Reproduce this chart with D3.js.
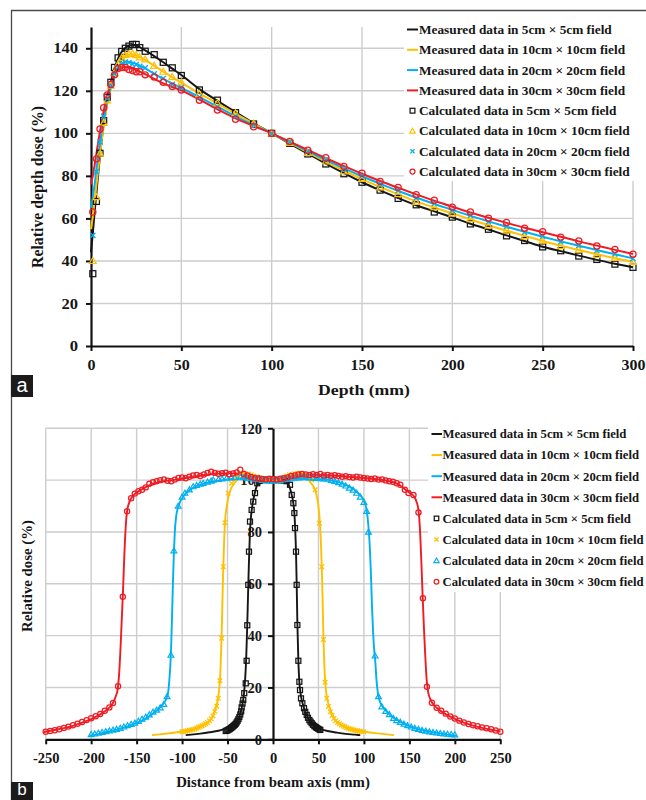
<!DOCTYPE html>
<html>
<head>
<meta charset="utf-8">
<script src="https://cdn.jsdelivr.net/npm/d3@7"></script>
<style>
  html, body { margin: 0; padding: 0; background: #fff; }
  svg { display: block; }
  text { font-family: "Liberation Serif", "Times New Roman", serif; font-weight: bold; fill: #161616; }
</style>
</head>
<body>
<svg id="fig" width="646" height="800"></svg>
<script>
// ---------- shared ----------
const fieldNames = ["5cm × 5cm", "10cm × 10cm", "20cm × 20cm", "30cm × 30cm"];
const fieldColors = ["#161616", "#ffc000", "#00b0f0", "#ee1c24"];

// ---------- panel a: percentage depth dose ----------
const pddXTicks = [0, 50, 100, 150, 200, 250, 300];
const pddYTicks = [0, 20, 40, 60, 80, 100, 120, 140];

const pddDepthMeasured = [0,1,2,3,4,5,6,7,8,9,10,12,14,16,18,20,22,24,26,28,30,35,40,45,50,
  60,70,80,90,100,110,120,130,140,150,160,170,180,190,200,210,220,230,240,250,260,270,280,290,300];
const pddMeas5 = [44,53,63,72,81,89.5,97.5,104.5,110.5,115.5,120,127.5,133,137,139.5,140.8,141.4,141.5,141,140,139,136.3,133.4,130.4,127.4,
  120.8,115.3,110,104.8,100,95.2,90.5,85.8,81.3,77,73.2,69.6,66.2,63.3,60.5,57.5,54.8,52,49.4,46.7,44.6,42.5,40.5,38.7,37];
const pddMeas10 = [55,61,68,75.5,83,90,97,103,108.5,113.5,117.5,124.5,129.5,133,135.5,136.8,137.2,137,136.4,135.5,134.5,131.8,129,126.3,123.8,
  118.8,114,109.3,104.6,100,95.5,91,86.6,82.4,78.5,74.8,71.3,68,65.1,62.4,59.5,56.8,54.2,51.8,49.4,47.2,45.1,43.1,41.3,39.6];
const pddMeas20 = [65,70,76,83,89.5,95.5,101,106.5,111,115,118.5,124.5,129,131.8,133.2,133.7,133.5,133,132.3,131.4,130.5,128,125.6,123.4,121.4,
  117,112.5,108,103.9,100,95.8,91.6,87.4,83.5,79.8,76.3,72.9,69.8,66.8,64,61.2,58.6,56.1,53.7,51.4,49.2,47.1,45.1,43.1,41.2];
const pddMeas30 = [76,80,85,90.5,96,101,106,110.5,114.5,118,121,125.8,129,130.7,131.2,131.1,130.7,130.1,129.4,128.6,127.8,125.6,123.5,121.8,120.2,
  115.8,111.3,107,103.4,100,96.1,92.2,88.3,84.6,81,77.6,74.4,71.3,68.3,65.5,62.8,60.3,57.9,55.6,53.5,51.4,49.2,47.2,45.2,43.3];

const pddDepthCalc = [1,3,5,7,9,11,13,15,17,19,21,23,25,27,30,35,40,45,50,
  60,70,80,90,100,110,120,130,140,150,160,170,180,190,200,210,220,230,240,250,260,270,280,290,300];
const pddCalc5 = [34,68,90.6,106,117,124,131,135.5,138.5,140,141,141.8,141.8,140.3,138.6,137,133.4,130.8,127.2,
  120.4,115.6,109.7,104.4,100,95.3,90.3,85.6,81,77,73.3,69.4,66.4,63,60.6,57.4,54.9,51.8,49.6,46.6,44.8,42.3,40.7,38.5,37];
const pddCalc10 = [40,70,90.5,105,115.5,122.5,128.5,132.5,135.5,136.8,137.3,137.5,136.8,135.8,134.8,131.8,129,126.5,124,
  118.5,114.2,109.5,104.5,100,95.6,90.8,86.8,82.2,78.6,74.6,71.5,67.8,65.3,62.3,59.7,56.6,54.4,51.6,49.6,47,45.3,42.9,41.5,39.6];
const pddCalc20 = [52,82,96,108,116.5,122.5,128,131,132.8,133.5,133.3,132.5,132.3,131.5,130.8,128,125.8,123,121.5,
  117,112.5,108,103.8,100,95.9,91.4,87.6,83.3,80,76.1,73.1,69.6,67,63.8,61.4,58.4,56.3,53.5,51.6,49,47.3,44.9,43.3,41.1];
const pddCalc30 = [63,88,102,112,118,123,127.5,130.5,131,131,130,129.5,129,129,127.5,126.5,124,122,120.4,
  115.6,111,106.6,103.1,100,96.2,92,88.5,84.4,81.2,77.4,74.6,71.1,68.5,65.3,63,60.1,58.1,55.4,53.7,51.2,49.4,47,45.4,43.2];

// ---------- panel b: lateral dose profiles ----------
const profXTicks = [-250,-200,-150,-100,-50,0,50,100,150,200,250];
const profYTicks = [0,20,40,60,80,100,120];

const profMeas5 = [[-96,1.6],[-90,1.8],[-80,2.2],[-70,2.7],[-60,3.3],[-52,4.1],[-46,5],[-42,6],[-39,7.3],[-36.5,9.3],[-34.5,12],[-33,14.8],
  [-31.8,18],[-30.5,24],[-29.5,31],[-28.5,42],[-27.5,55],[-26.5,68],[-25.5,78.5],[-24.3,85.5],[-22.8,90],[-21,93.5],[-19,96.5],[-17,98.6],
  [-14,99.6],[-10,100],[-5,100.2],[0,100.2],[5,100.1],[10,100],[14,99.5],[17,98.3],[19,96.5],[20.6,94.3],[22.4,91],[23.5,87.3],[24.3,82],
  [25.3,72.4],[26,61],[26.8,45],[27.8,31.5],[28.9,22.5],[30,18.5],[31.5,15.3],[33,13.3],[34.5,11.6],[37,9.3],[40,7.4],[43,6.1],[48,4.5],
  [52,4],[60,3.2],[70,2.6],[80,2.1],[90,1.8],[96,1.6]];
const profCalc5 = [[-52,3.2],[-51,3.3],[-50,3.5],[-49,3.7],[-48,3.9],[-47,4.1],[-46,4.4],[-45,4.7],[-44,5],[-43,5.3],[-42,5.6],[-41,6],
  [-40,6.5],[-39,7.1],[-38,7.8],[-37,8.6],[-36,9.6],[-35,10.8],[-34.5,12.3],[-33.5,13.8],[-32.7,15.2],[-31.6,17.8],[-30,21.6],[-29,30.3],
  [-28.3,44],[-27.2,59.6],[-26.4,72.4],[-25.3,84],[-23.5,88.5],[-21.7,91.7],[-19.8,95],[-17.3,98.8],[-14.5,99.7],[-12,100],[-9,100.1],
  [-6,100.2],[-3,100.2],[0,100.2],[3,100.1],[6,100],[9,100],[12,99.9],[15,99.6],[18.7,98.2],[20.6,94.3],[22.4,91.1],[23.5,87.3],[24.2,81.5],
  [25.3,72.4],[26,59.6],[26.8,44.1],[27.9,30.3],[29,22.2],[29.7,19],[30.8,15.8],[32.3,13.9],[34.1,12],[35.5,10.6],[37.1,9.4],[38.5,8.3],
  [40,7.4],[41.3,6.8],[42.6,6.2],[44,5.6],[45.5,5.1],[47,4.7],[48.1,4.4],[49.5,4.1],[51,3.8],[52,3.6]];

const profMeas10 = [[-133,1.6],[-125,1.9],[-115,2.3],[-105,2.7],[-100,3],[-90,3.6],[-80,4.7],[-73,6],[-68,7.8],[-65,10],[-62.5,12.8],
  [-60.5,15.5],[-59,20],[-58,25],[-57.3,32],[-56.5,40],[-55.7,52],[-54.8,65],[-53.8,76],[-52.8,84],[-51,89.5],[-49,93.5],[-46,96.8],
  [-42,99],[-38,100.4],[-33,101.2],[-28,101.3],[-20,101],[-10,100.5],[0,100.2],[10,100.5],[20,101],[28,101.3],[33,101.2],[38,100.3],
  [42,98.8],[46,96.5],[48,94],[50,90],[51.5,84],[52.7,76],[53.7,66],[54.5,55],[55.3,42],[56.2,31],[57.2,23.5],[58.5,18],[60,15],
  [62,12.5],[64.5,10.2],[67,8.2],[72,6.2],[80,4.6],[90,3.5],[100,2.9],[110,2.5],[120,2.1],[133,1.6]];
const profCalc10 = [[-100,2.9],[-98,3],[-96,3.1],[-94,3.3],[-92,3.5],[-90,3.6],[-88,3.8],[-86,4],[-84,4.3],[-82,4.6],[-80,4.9],[-78,5.2],
  [-76,5.6],[-74,6],[-72,6.5],[-70,7.2],[-68,7.9],[-66,9],[-64,10.8],[-62,12.8],[-60.2,15.8],[-58.4,22.6],[-56.5,39],[-54.7,66.6],
  [-52.9,83.6],[-49.2,95],[-45.5,98.8],[-42,100.5],[-39,101.5],[-36,102.3],[-33,102.7],[-30,102.5],[-27,102.4],[-24,102],[-21,101.6],
  [-18,101.3],[-15,100.9],[-12,100.6],[-9,100.4],[-6,100.2],[-3,100.1],[0,100],[3,100.2],[6,100.4],[9,100.6],[12,101],[15,101.6],[18,102],
  [21,102.2],[24,102.5],[27,102.6],[30,102.7],[33,102.4],[37,102],[40,101],[42.6,100.1],[46.3,96.3],[51,83.4],[53.6,66.6],[55.4,38.5],
  [57.3,22],[59.1,15.8],[61,12.7],[63,10.6],[65,9.2],[67,8],[69,7.2],[71,6.5],[73,6],[75,5.5],[77,5.1],[79,4.8],[81,4.5],[83,4.2],[85,4],
  [87,3.8],[89,3.6],[91,3.4],[93,3.3],[95,3.1],[97,3],[99.5,2.9]];

const profMeas20 = [[-202,1.4],[-190,2.2],[-180,3],[-170,3.9],[-160,5],[-150,6.3],[-140,8],[-130,10.5],[-125,12],[-120,14],[-117,16],
  [-115,19],[-114,23],[-113,28],[-112,36],[-111,48],[-110,61],[-109,72],[-108,80],[-106.5,86],[-104.5,89.5],[-102,91.8],[-98,94],
  [-94,95.5],[-90,96.6],[-85,97.6],[-80,98.2],[-70,99.2],[-60,99.8],[-50,100.3],[-40,100.6],[-30,100.7],[-20,100.5],[-10,100.2],[0,100],
  [10,100.2],[20,100.5],[30,100.7],[40,100.6],[50,100.4],[60,100.2],[70,99.4],[80,98.2],[85,97.3],[90,96.2],[95,94.5],[100,92],
  [103,88.5],[105,82],[106.5,74],[107.7,64],[108.8,52],[110,42],[111.2,35],[112.5,30],[113.8,23],[115.3,18],[117,15.2],[120,12.9],
  [125,10.8],[130,9],[140,6.8],[150,5.1],[160,3.9],[170,3.1],[180,2.5],[190,1.9],[202,1.4]];
const profCalc20 = [[-200,1.9],[-196,2.1],[-192,2.4],[-188,2.7],[-184,3],[-180,3.3],[-176,3.6],[-172,3.9],[-168,4.3],[-164,4.8],[-160,5.3],
  [-156,5.8],[-152,6.3],[-148,7],[-144,7.8],[-140,8.6],[-136,9.5],[-132,10.5],[-128,11.3],[-124,12.2],[-120,13.5],[-116.5,16.5],
  [-112.3,32.5],[-109,72.8],[-104.3,90],[-100,93.5],[-96.9,95],[-92,96.3],[-87.8,97.5],[-84,98],[-80,98.5],[-76.8,98.8],[-72,99.3],
  [-68,99.7],[-65.7,100.1],[-60,100.3],[-56,100.5],[-51,100.8],[-46,100.9],[-42,101],[-36,101.2],[-32,101],[-28,100.8],[-24,100.6],
  [-20,100.4],[-16,100.2],[-12,100],[-8,99.8],[-4,99.7],[0,99.7],[4,99.8],[8,100],[12,100.2],[16,100.4],[20,100.6],[24,100.8],[28,100.9],
  [32,101],[36,101.1],[40,100.9],[44,100.8],[48,100.7],[52,100.6],[56,100.5],[60,100.4],[64,100],[68,99.6],[72,99.1],[76,98.5],[80,97.8],
  [84,97],[88,96.2],[92,95],[96,93.5],[100,91.5],[103,88],[105,80],[112.3,32.2],[116,16.5],[119.7,12.6],[124,10.8],[128,9.6],[132.5,8.1],
  [136,7.3],[140,6.6],[144,5.9],[148,5.3],[152,4.8],[156,4.3],[160,3.9],[164,3.5],[168,3.2],[172,2.9],[176,2.7],[180,2.5],[184,2.3],
  [188,2.1],[192,2],[196,1.9],[200,1.8]];

const profMeas30 = [[-252,2.8],[-240,3.6],[-230,4.3],[-220,5.2],[-210,6.4],[-200,7.8],[-190,9.6],[-185,10.8],[-180,12.2],[-176,14],
  [-173,16.5],[-171,19],[-169.5,24],[-168,33],[-166.5,45],[-165,57],[-163.5,71],[-162,82],[-160.5,88],[-158,91.5],[-155,93.5],[-150,95.2],
  [-145,96.3],[-140,97.3],[-130,98.8],[-120,99.6],[-110,100],[-100,100.6],[-90,101.2],[-80,101.7],[-70,102.2],[-60,102.5],[-50,102.6],
  [-40,102.6],[-30,102.2],[-20,101.2],[-10,100.5],[0,100.3],[10,100.5],[20,101.2],[30,102],[40,102.2],[50,102.1],[60,101.9],[70,101.7],
  [80,101.4],[90,101.1],[100,100.8],[110,100.5],[120,100.1],[130,99.4],[135,98.8],[140,97.9],[145,96.5],[150,95.2],[155,93.8],[158,91.5],
  [160,88.5],[161.5,82],[163,70],[164.5,56],[166,43],[167.5,32],[169,23],[170.5,18.5],[173,15.5],[176,13.6],[180,12.2],[190,9.7],
  [200,7.9],[210,6.4],[220,5.3],[230,4.4],[240,3.7],[250,3]];
const profCalc30 = [[-250,2.9],[-245,3.2],[-240,3.5],[-235,3.9],[-230,4.4],[-225,4.9],[-220,5.4],[-215,6],[-210,6.7],[-205,7.4],[-200,8.1],
  [-195,8.9],[-190,9.8],[-185,11],[-180,12.3],[-176,14],[-170.4,20.5],[-165.2,55],[-160.5,88],[-156,93],[-152,94.8],[-148,95.7],
  [-144,96.3],[-140,97.2],[-136,98.6],[-132,99.2],[-128,99.6],[-124,100],[-120,100.3],[-116,99.8],[-112,99.6],[-108,100.2],[-104,100.8],
  [-100,101],[-96,100.7],[-92,101.3],[-88,101.8],[-84,102],[-80,101.6],[-76,102.2],[-72,102.8],[-68,103.2],[-64,102.8],[-60,102.5],
  [-56,102.7],[-52,102.9],[-48,102.3],[-44,102.6],[-40,103],[-36,104],[-32,102.4],[-28,101.8],[-24,101.2],[-20,100.8],[-16,100.6],
  [-12,100.4],[-8,100.3],[-4,100.5],[0,100.4],[4,100.2],[8,100.5],[12,100.7],[16,101],[20,101.6],[24,101.8],[28,102.2],[32,102.4],
  [36,102.2],[40,102],[44,102.3],[48,102],[52,102.4],[56,101.8],[60,102],[64,101.7],[68,101.9],[72,101.6],[76,101.3],[80,101.5],[84,101.2],
  [88,101],[92,101.3],[96,101],[100,100.8],[104,100.6],[108,100.4],[112,100.6],[116,100.2],[120,100.3],[124,99.9],[128,99.6],[132,99.4],
  [136,98.8],[140,98.2],[145,96.3],[149,95],[154.5,94.3],[160,87.5],[164.9,54.4],[169.3,20.3],[174.8,14.1],[180,12.2],[185,11],[190,9.9],
  [195,8.8],[200,8],[205,7.2],[210,6.5],[215,5.9],[220,5.4],[225,5],[230,4.6],[235,4.3],[240,3.9],[245,3.4],[250,2.9]];

// ---------- helpers ----------
const svg = d3.select("#fig");

// widen a text run horizontally by factor k
function widen(sel, k) {
  sel.each(function () {
    const w = this.getComputedTextLength();
    this.setAttribute("textLength", (w * k).toFixed(1));
    this.setAttribute("lengthAdjust", "spacingAndGlyphs");
  });
}

function marker(g, kind, x, y, s, color) {
  if (kind === "square") {
    g.append("rect").attr("x", x - s).attr("y", y - s).attr("width", 2 * s).attr("height", 2 * s)
      .attr("fill", "none").attr("stroke", color).attr("stroke-width", 1.25);
  } else if (kind === "circle") {
    g.append("circle").attr("cx", x).attr("cy", y).attr("r", s)
      .attr("fill", "none").attr("stroke", color).attr("stroke-width", 1.25);
  } else if (kind === "triangle") {
    const h = s * 1.15;
    g.append("path").attr("d", `M${x},${y - h}L${x + h},${y + h * 0.75}L${x - h},${y + h * 0.75}Z`)
      .attr("fill", "none").attr("stroke", color).attr("stroke-width", 1.2);
  } else {
    g.append("path").attr("d", `M${x - s},${y - s}L${x + s},${y + s}M${x - s},${y + s}L${x + s},${y - s}`)
      .attr("fill", "none").attr("stroke", color).attr("stroke-width", 1.3);
  }
}

// outer frame
svg.append("path").attr("d", "M11.5,800V10.5H646").attr("fill", "none").attr("stroke", "#4a4a4a").attr("stroke-width", 1.3);

// =========================================================
// Panel a
// =========================================================
const xA = d3.scaleLinear().domain([0, 300]).range([91, 633]);
const yA = d3.scaleLinear().domain([0, 150]).range([346, 27]);
const gA = svg.append("g");

gA.append("g").selectAll("line").data(pddXTicks.filter(d => d > 0)).join("line")
  .attr("x1", d => xA(d)).attr("x2", d => xA(d)).attr("y1", yA(150)).attr("y2", yA(0))
  .attr("stroke", "#cdcdcd").attr("stroke-width", 1.4);
gA.append("g").selectAll("line").data(pddYTicks.filter(d => d > 0)).join("line")
  .attr("x1", xA(0)).attr("x2", xA(300)).attr("y1", d => yA(d)).attr("y2", d => yA(d))
  .attr("stroke", "#cdcdcd").attr("stroke-width", 1.4);

const axA_y = gA.append("g").attr("transform", `translate(${xA(0)},0)`)
  .call(d3.axisLeft(yA).tickValues(pddYTicks).tickSize(5).tickSizeOuter(0).tickFormat(d3.format("d")));
const axA_x = gA.append("g").attr("transform", `translate(0,${yA(0)})`)
  .call(d3.axisBottom(xA).tickValues(pddXTicks).tickSize(5).tickSizeOuter(0).tickFormat(d3.format("d")));
[axA_y, axA_x].forEach(ax => {
  ax.select(".domain").attr("stroke", "#111").attr("stroke-width", 2.2);
  ax.selectAll(".tick line").attr("stroke", "#111").attr("stroke-width", 2);
  ax.selectAll(".tick text").attr("font-family", null).attr("fill", "#161616").style("font-size", "14px");
});
axA_y.selectAll(".tick text").attr("x", -13).attr("dy", "0.33em");
axA_x.selectAll(".tick text").attr("y", 14).attr("dy", "0.71em");
widen(axA_y.selectAll(".tick text"), 1.18);
widen(axA_x.selectAll(".tick text"), 1.14);

const tA1 = gA.append("text").attr("x", 364).attr("y", 395).attr("text-anchor", "middle").style("font-size", "14.5px").text("Depth (mm)");
widen(tA1, 1.22);
gA.append("text").attr("transform", "translate(43,187) rotate(-90)").attr("text-anchor", "middle")
  .style("font-size", "15.8px").text("Relative depth dose (%)");

const lineA = d3.line().x(d => xA(d[0])).y(d => yA(d[1])).curve(d3.curveMonotoneX);
const pddMeasured = [pddMeas5, pddMeas10, pddMeas20, pddMeas30];
const pddCalculated = [pddCalc5, pddCalc10, pddCalc20, pddCalc30];
const pddMarkerKinds = ["square", "triangle", "cross", "circle"];
const pddMarkerSize = [3, 3, 2.6, 3.1];

pddMeasured.forEach((vals, i) => {
  gA.append("path").datum(pddDepthMeasured.map((d, j) => [d, vals[j]]))
    .attr("d", lineA).attr("fill", "none").attr("stroke", fieldColors[i]).attr("stroke-width", 2);
});
pddCalculated.forEach((vals, i) => {
  const g = gA.append("g");
  pddDepthCalc.forEach((d, j) => marker(g, pddMarkerKinds[i], xA(d), yA(vals[j]), pddMarkerSize[i], fieldColors[i]));
});

// legend a
const legA = svg.append("g");
legA.append("rect").attr("x", 404).attr("y", 18).attr("width", 242).attr("height", 163).attr("fill", "#fff");
for (let i = 0; i < 8; i++) {
  const cy = 29.5 + i * 20.3;
  const f = i % 4;
  if (i < 4) {
    legA.append("line").attr("x1", 407).attr("x2", 418).attr("y1", cy).attr("y2", cy)
      .attr("stroke", fieldColors[f]).attr("stroke-width", 2);
  } else {
    marker(legA, pddMarkerKinds[f], 412.5, cy, pddMarkerSize[f] * 0.8, fieldColors[f]);
  }
  legA.append("text").attr("x", 419).attr("y", cy + 4.4).style("font-size", "13.3px")
    .text((i < 4 ? "Measured" : "Calculated") + " data in " + fieldNames[f] + " field");
}

// panel tag a
svg.append("rect").attr("x", 11).attr("y", 375).attr("width", 22).attr("height", 22).attr("fill", "#1b1b1b");
svg.append("text").attr("x", 22).attr("y", 392).attr("text-anchor", "middle")
  .style("font-family", "'Liberation Sans', Arial, sans-serif").style("font-weight", "normal").style("font-size", "20px")
  .style("fill", "#fff").text("a");

// =========================================================
// Panel b
// =========================================================
const xB = d3.scaleLinear().domain([-250, 250]).range([45.7, 500.3]);
const yB = d3.scaleLinear().domain([0, 120]).range([739.3, 428.3]);
const gB = svg.append("g");

gB.append("g").selectAll("line").data(profXTicks.filter(d => d !== 0)).join("line")
  .attr("x1", d => xB(d)).attr("x2", d => xB(d)).attr("y1", yB(120)).attr("y2", yB(0))
  .attr("stroke", "#cdcdcd").attr("stroke-width", 1.4);
gB.append("g").selectAll("line").data(profYTicks.filter(d => d > 0)).join("line")
  .attr("x1", xB(-250)).attr("x2", xB(250)).attr("y1", d => yB(d)).attr("y2", d => yB(d))
  .attr("stroke", "#cdcdcd").attr("stroke-width", 1.4);

const axB_y = gB.append("g").attr("transform", `translate(${xB(0)},0)`)
  .call(d3.axisLeft(yB).tickValues(profYTicks).tickSize(5).tickSizeOuter(0).tickFormat(d3.format("d")));
const axB_x = gB.append("g").attr("transform", `translate(0,${yB(0)})`)
  .call(d3.axisBottom(xB).tickValues(profXTicks).tickSize(5).tickSizeOuter(0).tickFormat(d3.format("d")));
[axB_y, axB_x].forEach(ax => {
  ax.select(".domain").attr("stroke", "#111").attr("stroke-width", 2.2);
  ax.selectAll(".tick line").attr("stroke", "#111").attr("stroke-width", 2);
  ax.selectAll(".tick text").attr("font-family", null).attr("fill", "#161616").style("font-size", "14.5px");
});
axB_y.selectAll(".tick text").attr("x", -11).attr("dy", "0.33em");
axB_x.selectAll(".tick text").attr("y", 13).attr("dy", "0.71em").text(d => d < 0 ? "-" + Math.abs(d) : d);

gB.append("text").attr("x", 273).attr("y", 787).attr("text-anchor", "middle").style("font-size", "14.8px")
  .text("Distance from beam axis (mm)");
gB.append("text").attr("transform", "translate(32,576) rotate(-90)").attr("text-anchor", "middle")
  .style("font-size", "14.8px").text("Relative dose (%)");

const lineB = d3.line().x(d => xB(d[0])).y(d => yB(d[1])).curve(d3.curveMonotoneX);
const profMeasured = [profMeas5, profMeas10, profMeas20, profMeas30];
const profCalculated = [profCalc5, profCalc10, profCalc20, profCalc30];
const profMarkerKinds = ["square", "cross", "triangle", "circle"];
const profMarkerSize = [2.5, 2.3, 2.5, 2.6];

profMeasured.forEach((pts, i) => {
  gB.append("path").datum(pts).attr("d", lineB).attr("fill", "none")
    .attr("stroke", fieldColors[i]).attr("stroke-width", 1.9);
});
profCalculated.forEach((pts, i) => {
  const g = gB.append("g");
  pts.forEach(p => marker(g, profMarkerKinds[i], xB(p[0]), yB(p[1]), profMarkerSize[i], fieldColors[i]));
});

// legend b
const legB = svg.append("g");
legB.append("rect").attr("x", 428).attr("y", 421).attr("width", 218).attr("height", 171).attr("fill", "#fff");
for (let i = 0; i < 8; i++) {
  const cy = 434 + i * 21.1;
  const f = i % 4;
  if (i < 4) {
    legB.append("line").attr("x1", 431.5).attr("x2", 442).attr("y1", cy).attr("y2", cy)
      .attr("stroke", fieldColors[f]).attr("stroke-width", 2);
  } else {
    marker(legB, profMarkerKinds[f], 436.5, cy, profMarkerSize[f] * 0.9, fieldColors[f]);
  }
  legB.append("text").attr("x", 442.5).attr("y", cy + 4.3).style("font-size", "12.7px")
    .text((i < 4 ? "Measured" : "Calculated") + " data in " + fieldNames[f] + " field");
}

// panel tag b
svg.append("rect").attr("x", 11).attr("y", 782).attr("width", 22).attr("height", 18).attr("fill", "#1b1b1b");
svg.append("text").attr("x", 22).attr("y", 795).attr("text-anchor", "middle")
  .style("font-family", "'Liberation Sans', Arial, sans-serif").style("font-weight", "normal").style("font-size", "17px")
  .style("fill", "#fff").text("b");
</script>
</body>
</html>
